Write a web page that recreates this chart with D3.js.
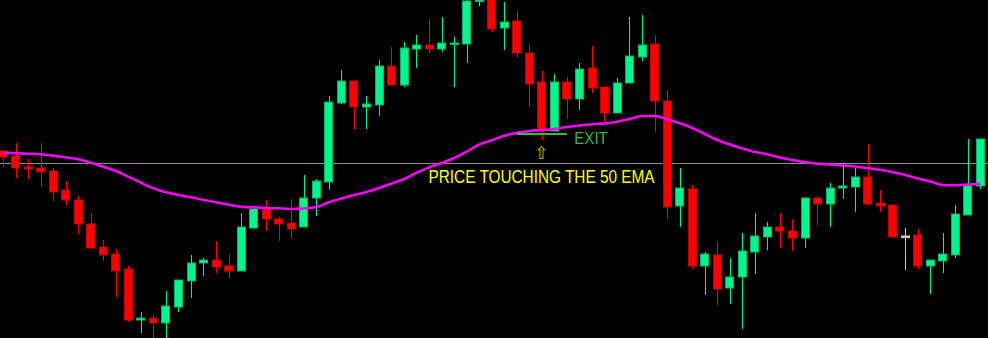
<!DOCTYPE html>
<html lang="en">
<head>
    <meta charset="UTF-8">
    <title>Price touching the 50 EMA</title>
    <script src="https://cdn.jsdelivr.net/npm/d3@7"></script>
    <style>
        html, body { margin: 0; padding: 0; background: #000; overflow: hidden; }
    </style>
</head>
<body>
<script type="application/javascript">
    // OHLC, one entry per bar
    const open = [1.3187,1.3182,1.3171,1.3170,1.3167,1.3148,1.3138,1.3114,1.3091,1.3084,
        1.3069,1.3018,1.3020,1.3015,1.3031,1.3057,1.3075,1.3078,1.3072,1.3067,
        1.3110,1.3129,1.3119,1.3115,1.3111,1.3140,1.3156,1.3235,1.3257,1.3231,
        1.3233,1.3272,1.3253,1.3289,1.3293,1.3289,1.3294,1.3294,1.3337,1.3340,
        1.3310,1.3317,1.3285,1.3256,1.3207,1.3256,1.3239,1.3270,1.3251,1.3225,
        1.3255,1.3281,1.3294,1.3237,1.3132,1.3149,1.3072,1.3083,1.3050,1.3061,
        1.3086,1.3101,1.3111,1.3107,1.3100,1.3140,1.3134,1.3150,1.3151,1.3161,
        1.3135,1.3133,1.3102,1.3103,1.3072,1.3077,1.3083,1.3123,1.3152];
    const high = [1.3188,1.3195,1.3179,1.3195,1.3170,1.3157,1.3142,1.3125,1.3098,1.3089,
        1.3072,1.3026,1.3023,1.3047,1.3058,1.3083,1.3080,1.3097,1.3084,1.3125,
        1.3130,1.3138,1.3121,1.3139,1.3163,1.3159,1.3242,1.3268,1.3257,1.3242,
        1.3278,1.3291,1.3296,1.3303,1.3319,1.3321,1.3301,1.3340,1.3339,1.3342,
        1.3336,1.3327,1.3294,1.3267,1.3264,1.3261,1.3275,1.3292,1.3251,1.3260,
        1.3321,1.3323,1.3303,1.3248,1.3170,1.3153,1.3086,1.3096,1.3080,1.3105,
        1.3125,1.3116,1.3125,1.3119,1.3141,1.3142,1.3155,1.3175,1.3170,1.3194,
        1.3148,1.3133,1.3110,1.3109,1.3078,1.3105,1.3133,1.3199,1.3199];
    const low = [1.3171,1.3160,1.3159,1.3151,1.3137,1.3133,1.3104,1.3090,1.3077,1.3041,
        1.3016,1.3005,1.2998,1.2997,1.3026,1.3040,1.3062,1.3065,1.3059,1.3067,
        1.3109,1.3107,1.3097,1.3099,1.3111,1.3122,1.3148,1.3234,1.3209,1.3209,
        1.3222,1.3253,1.3251,1.3270,1.3285,1.3286,1.3251,1.3275,1.3332,1.3306,
        1.3288,1.3281,1.3231,1.3198,1.3207,1.3219,1.3228,1.3245,1.3216,1.3225,
        1.3255,1.3277,1.3206,1.3119,1.3111,1.3069,1.3043,1.3033,1.3034,1.3009,
        1.3064,1.3088,1.3090,1.3087,1.3090,1.3113,1.3111,1.3139,1.3126,1.3133,
        1.3126,1.3100,1.3068,1.3069,1.3044,1.3065,1.3080,1.3123,1.3149];
    const close = [1.3181,1.3170,1.3169,1.3166,1.3146,1.3138,1.3114,1.3090,1.3083,1.3067,
        1.3018,1.3020,1.3015,1.3032,1.3058,1.3075,1.3078,1.3071,1.3067,1.3111,
        1.3129,1.3119,1.3114,1.3109,1.3140,1.3157,1.3236,1.3257,1.3231,1.3234,
        1.3272,1.3253,1.3290,1.3293,1.3289,1.3295,1.3295,1.3337,1.3338,1.3309,
        1.3316,1.3285,1.3254,1.3207,1.3256,1.3239,1.3269,1.3250,1.3225,1.3255,
        1.3282,1.3293,1.3237,1.3131,1.3150,1.3072,1.3084,1.3049,1.3061,1.3087,
        1.3102,1.3111,1.3107,1.3100,1.3140,1.3134,1.3150,1.3152,1.3161,1.3134,
        1.3132,1.3101,1.3102,1.3072,1.3078,1.3084,1.3124,1.3152,1.3199];
    // 50 EMA
    const ema50 = [1.31853,1.31847,1.31843,1.31837,1.31823,1.31807,1.31787,1.31753,1.31713,1.31670,
        1.31613,1.31553,1.31497,1.31457,1.31430,1.31407,1.31380,1.31357,1.31333,1.31313,
        1.31307,1.31300,1.31297,1.31290,1.31295,1.31310,1.31357,1.31395,1.31430,1.31460,
        1.31500,1.31545,1.31590,1.31653,1.31707,1.31750,1.31800,1.31865,1.31935,1.31978,
        1.32022,1.32052,1.32070,1.32080,1.32091,1.32110,1.32125,1.32138,1.32146,1.32163,
        1.32190,1.32220,1.32220,1.32187,1.32147,1.32100,1.32040,1.31980,1.31935,1.31895,
        1.31860,1.31836,1.31805,1.31780,1.31757,1.31743,1.31735,1.31726,1.31715,1.31699,
        1.31682,1.31658,1.31630,1.31595,1.31565,1.31530,1.31527,1.31534,1.31543];
    const levelPrice = 1.3175;

    // annotations: exit marker from bar 41 to 45, arrow under bar 43
    const exitBars = [41, 45];
    const exitPrice = 1.3204;
    const exitLabel = 'EXIT';
    const arrowBar = 43;
    const arrowPrice = 1.3180;
    const noteBar = 34;
    const notePrice = 1.31553;
    const noteLabel = 'PRICE TOUCHING THE 50 EMA';

    const w = 988, h = 338;
    const n = open.length;

    const svg = d3.select('body')
        .append('svg')
        .attr('width', w)
        .attr('height', h)
        .style('display', 'block')
        .style('background', '#000');

    // bar positions
    const xScale = d3.scaleBand()
        .domain(d3.range(n))
        .range([-3.27, 986.6])
        .paddingInner(0.3)
        .paddingOuter(0.15);
    const cx = i => xScale(i) + xScale.bandwidth() / 2;

    const yScale = d3.scaleLinear()
        .domain([1.3000, 1.3338])
        .range([h, 0]);

    const bars = d3.range(n).map(i => ({
        i, o: open[i], hi: high[i], lo: low[i], c: close[i]
    }));

    const bodyColor = d => d.c > d.o ? '#00f58a' : (d.c < d.o ? '#ff0000' : '#c8c8c8');
    const edgeColor = d => d.c > d.o ? '#00b868' : (d.c < d.o ? '#c80000' : '#c8c8c8');

    // grey level line
    svg.append('line')
        .attr('x1', 0).attr('x2', w)
        .attr('y1', Math.round(yScale(levelPrice)) + 0.5)
        .attr('y2', Math.round(yScale(levelPrice)) + 0.5)
        .attr('stroke', '#8c8c8c')
        .attr('stroke-width', 1);

    // wicks
    svg.selectAll('line.wick')
        .data(bars)
        .enter()
        .append('line')
        .attr('class', 'wick')
        .attr('x1', d => Math.round(cx(d.i)) + 0.5)
        .attr('x2', d => Math.round(cx(d.i)) + 0.5)
        .attr('y1', d => yScale(d.hi))
        .attr('y2', d => yScale(d.lo))
        .attr('stroke', bodyColor)
        .attr('stroke-width', 1);

    // bodies
    svg.selectAll('rect.body')
        .data(bars)
        .enter()
        .append('rect')
        .attr('class', 'body')
        .attr('x', d => Math.round(xScale(d.i)) + 0.5)
        .attr('width', Math.round(xScale.bandwidth()) - 1)
        .attr('y', d => yScale(Math.max(d.o, d.c)))
        .attr('height', d => Math.max(1.5, Math.abs(yScale(d.o) - yScale(d.c))))
        .attr('fill', bodyColor)
        .attr('stroke', edgeColor)
        .attr('stroke-width', 1);

    // 50 EMA
    const emaLine = d3.line()
        .x((d, i) => cx(i))
        .y(d => yScale(d))
        .curve(d3.curveMonotoneX);
    svg.append('path')
        .datum(ema50)
        .attr('d', emaLine)
        .attr('fill', 'none')
        .attr('stroke', '#ff00ff')
        .attr('stroke-width', 2.5);

    // exit marker
    svg.append('line')
        .attr('x1', cx(exitBars[0]))
        .attr('x2', cx(exitBars[1]))
        .attr('y1', yScale(exitPrice))
        .attr('y2', yScale(exitPrice))
        .attr('stroke', '#3cb83c')
        .attr('stroke-width', 2);

    svg.append('text')
        .text(exitLabel)
        .attr('x', cx(exitBars[1]) + 7.5)
        .attr('y', yScale(exitPrice) + 9.5)
        .attr('font-family', '"Liberation Sans", Arial, sans-serif')
        .attr('font-size', '16.3px')
        .attr('textLength', 33.4)
        .attr('lengthAdjust', 'spacingAndGlyphs')
        .attr('fill', '#3cb83c');

    svg.append('text')
        .text('\u21E7')
        .attr('x', cx(arrowBar) - 0.5)
        .attr('y', yScale(arrowPrice) + 0.5)
        .attr('text-anchor', 'middle')
        .attr('font-family', '"DejaVu Sans", sans-serif')
        .attr('font-size', '17px')
        .attr('fill', '#c8c800');

    svg.append('text')
        .text(noteLabel)
        .attr('x', cx(noteBar) - 0.5)
        .attr('y', yScale(notePrice))
        .attr('font-family', '"Liberation Sans", Arial, sans-serif')
        .attr('font-size', '17.5px')
        .attr('textLength', 226)
        .attr('lengthAdjust', 'spacingAndGlyphs')
        .attr('fill', '#ffff00');
</script>
</body>
</html>
